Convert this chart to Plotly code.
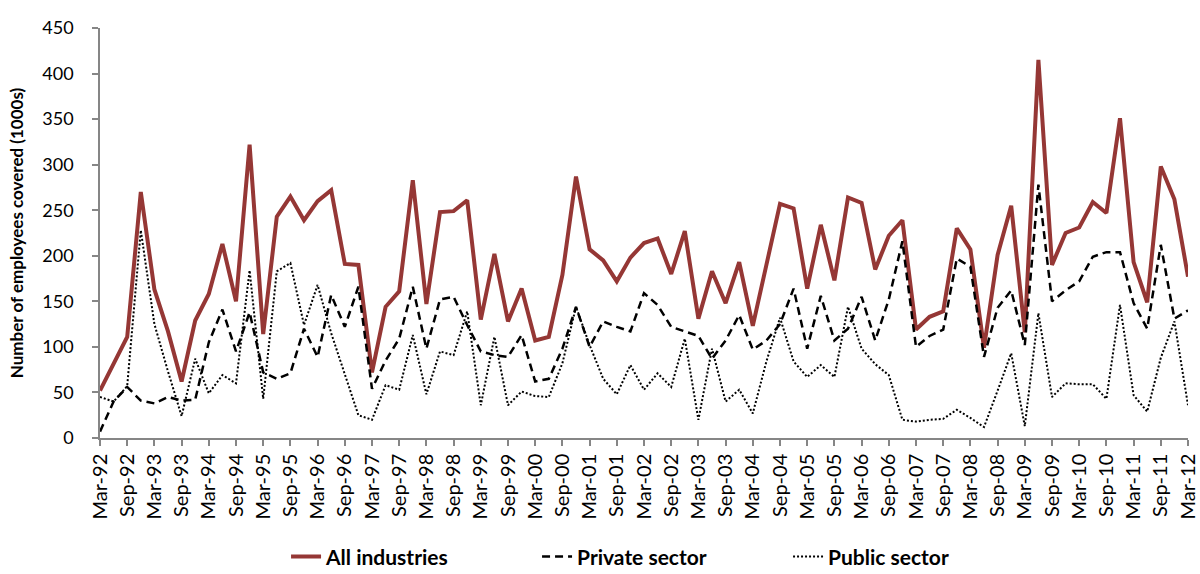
import plotly.graph_objects as go

quarters = [
    "Mar-92", "Jun-92", "Sep-92", "Dec-92", "Mar-93", "Jun-93", "Sep-93", "Dec-93",
    "Mar-94", "Jun-94", "Sep-94", "Dec-94", "Mar-95", "Jun-95", "Sep-95", "Dec-95",
    "Mar-96", "Jun-96", "Sep-96", "Dec-96", "Mar-97", "Jun-97", "Sep-97", "Dec-97",
    "Mar-98", "Jun-98", "Sep-98", "Dec-98", "Mar-99", "Jun-99", "Sep-99", "Dec-99",
    "Mar-00", "Jun-00", "Sep-00", "Dec-00", "Mar-01", "Jun-01", "Sep-01", "Dec-01",
    "Mar-02", "Jun-02", "Sep-02", "Dec-02", "Mar-03", "Jun-03", "Sep-03", "Dec-03",
    "Mar-04", "Jun-04", "Sep-04", "Dec-04", "Mar-05", "Jun-05", "Sep-05", "Dec-05",
    "Mar-06", "Jun-06", "Sep-06", "Dec-06", "Mar-07", "Jun-07", "Sep-07", "Dec-07",
    "Mar-08", "Jun-08", "Sep-08", "Dec-08", "Mar-09", "Jun-09", "Sep-09", "Dec-09",
    "Mar-10", "Jun-10", "Sep-10", "Dec-10", "Mar-11", "Jun-11", "Sep-11", "Dec-11",
    "Mar-12",
]

all_industries = [
    52, 81, 111, 270, 163, 117, 62, 129, 158, 213, 150, 322, 114, 243, 265, 239,
    260, 272, 191, 190, 72, 144, 161, 283, 147, 248, 249, 261, 130, 202, 128, 164,
    107, 111, 179, 287, 207, 195, 172, 198, 214, 219, 180, 227, 131, 183, 148, 193,
    123, 190, 257, 252, 164, 234, 173, 264, 258, 185, 222, 239, 119, 133, 139, 230,
    207, 99, 201, 255, 116, 415, 190, 225, 231, 259, 247, 351, 193, 149, 298, 262,
    177,
]

private_sector = [
    7, 40, 56, 41, 38, 45, 41, 42, 105, 141, 95, 138, 72, 65, 71, 120,
    89, 157, 122, 166, 54, 85, 109, 166, 98, 152, 155, 124, 95, 91, 89, 113,
    62, 65, 98, 144, 100, 128, 122, 117, 159, 146, 122, 117, 112, 87, 107, 135,
    97, 107, 125, 164, 98, 156, 107, 120, 155, 107, 152, 216, 100, 112, 119, 197,
    188, 89, 143, 162, 102, 278, 150, 162, 172, 199, 204, 204, 148, 120, 212, 131,
    140,
]

public_sector = [
    45, 40, 57, 228, 125, 73, 24, 87, 49, 69, 60, 184, 43, 183, 192, 124,
    168, 115, 70, 25, 20, 58, 53, 113, 48, 95, 91, 139, 36, 111, 36, 51,
    46, 45, 82, 144, 102, 65, 48, 80, 53, 71, 56, 109, 20, 98, 40, 53,
    27, 84, 132, 84, 67, 80, 67, 144, 98, 81, 69, 20, 18, 20, 21, 31,
    22, 12, 52, 93, 13, 137, 45, 60, 59, 59, 43, 146, 47, 29, 88, 128,
    36,
]

y_ticks = [0, 50, 100, 150, 200, 250, 300, 350, 400, 450]
x_ticks = quarters[::2]

FONT = "Lato, 'Liberation Sans', Arial, sans-serif"
AXIS_GREY = "#868686"

fig = go.Figure()
fig.add_trace(go.Scatter(
    x=quarters, y=all_industries, name="All industries", mode="lines",
    line=dict(color="#953735", width=4),
))
fig.add_trace(go.Scatter(
    x=quarters, y=private_sector, name="Private sector", mode="lines",
    line=dict(color="#000000", width=2.5, dash="8px,5px"),
))
fig.add_trace(go.Scatter(
    x=quarters, y=public_sector, name="Public sector", mode="lines",
    line=dict(color="#000000", width=2, dash="2px,2px"),
))

fig.update_layout(
    width=1200, height=574,
    margin=dict(l=100, r=12, t=28, b=136, autoexpand=False),
    paper_bgcolor="white", plot_bgcolor="white",
    font=dict(family=FONT, color="#000000", size=16),
    showlegend=True,
    legend=dict(
        orientation="h", x=0.171, xanchor="left", y=-0.29, yanchor="middle",
        font=dict(family=FONT, size=21, weight="bold"),
        entrywidth=206, entrywidthmode="pixels", tracegroupgap=0,
    ),
)
fig.update_xaxes(
    type="category", range=[0, len(quarters) - 1],
    tickmode="array", tickvals=x_ticks, ticktext=x_ticks,
    tickangle=-90, tickfont=dict(family=FONT, size=20),
    showline=True, linecolor=AXIS_GREY, linewidth=1.5,
    ticks="outside", ticklen=6, tickcolor=AXIS_GREY, tickwidth=1.5,
    showgrid=False, zeroline=False, automargin=False,
)
fig.update_yaxes(
    range=[0, 450], tickmode="array", tickvals=y_ticks,
    tickfont=dict(family=FONT, size=18), ticklabelstandoff=15,
    showline=True, linecolor=AXIS_GREY, linewidth=1.5,
    ticks="outside", ticklen=6, tickcolor=AXIS_GREY, tickwidth=1.5,
    showgrid=False, zeroline=False, automargin=False,
    title=dict(text="Number of employees covered (1000s)",
               font=dict(family=FONT, size=17, weight="bold"), standoff=14),
)

fig.write_html(
    "out.html",
    config={"displayModeBar": False},
    post_script="document.body.style.margin='0';document.body.style.overflow='hidden';",
)
